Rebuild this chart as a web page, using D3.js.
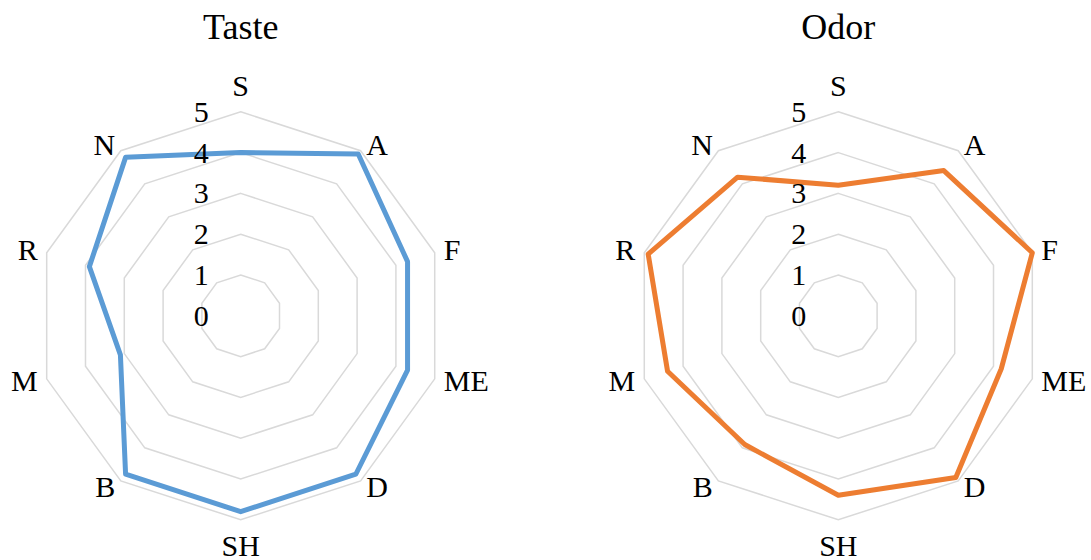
<!DOCTYPE html>
<html>
<head>
<meta charset="utf-8">
<script src="https://cdn.jsdelivr.net/npm/d3@7"></script>
<style>
  body { margin: 0; background: #fff; }
  svg { display: block; }
  text { font-family: "Liberation Serif", "Times New Roman", serif; fill: #000; }
</style>
</head>
<body>
<div id="chart"></div>
<script>
// categorias de los ejes (en sentido horario desde arriba)
const categorias = ["S", "A", "F", "ME", "D", "SH", "B", "M", "R", "N"]
const valoresTaste = [4.0, 4.9, 4.3, 4.3, 4.8, 4.8, 4.8, 3.1, 3.9, 4.8]
const valoresOdor = [3.2, 4.4, 5.0, 4.2, 4.9, 4.4, 3.9, 4.4, 4.9, 4.2]
const ticks = [0, 1, 2, 3, 4, 5]
const titulos = ["Taste", "Odor"]
const colores = ["#5B9BD5", "#ED7D31"]

const ancho = 1091
const alto = 560
const radio = 204
const centros = [{ x: 240.7, y: 315.8 }, { x: 838.3, y: 315.8 }]

const svg = d3.select("#chart")
  .append("svg")
  .attr("width", ancho)
  .attr("height", alto)

const r = d3.scaleLinear().domain([0, 5]).range([0, radio])
const ang = d3.scaleLinear().domain([0, categorias.length]).range([0, 2 * Math.PI])

const radar = d3.lineRadial()
  .angle((d, i) => ang(i))
  .radius(d => r(d))
  .curve(d3.curveLinearClosed)

const dibujarRadar = (valores, titulo, color, c) => {
  const g = svg.append("g").attr("transform", `translate(${c.x}, ${c.y})`)

  // anillos de la cuadricula
  g.selectAll("path.anillo")
    .data(ticks.filter(t => t > 0))
    .enter()
    .append("path")
    .attr("class", "anillo")
    .attr("d", t => radar(categorias.map(() => t)))
    .attr("fill", "none")
    .attr("stroke", "#D9D9D9")
    .attr("stroke-width", 1.5)

  // serie
  g.append("path")
    .attr("d", radar(valores))
    .attr("fill", "none")
    .attr("stroke", color)
    .attr("stroke-width", 5)
    .attr("stroke-linejoin", "round")

  // etiquetas del eje de valores
  g.selectAll("text.tick")
    .data(ticks)
    .enter()
    .append("text")
    .attr("class", "tick")
    .attr("x", -32)
    .attr("y", t => -r(t) + 10)
    .attr("text-anchor", "end")
    .style("font-size", "30px")
    .text(t => t)

  // etiquetas de categorias
  g.selectAll("text.cat")
    .data(categorias)
    .enter()
    .append("text")
    .attr("class", "cat")
    .each(function (d, i) {
      const a = ang(i)
      const s = Math.sin(a), co = Math.cos(a)
      const x0 = r(5) * s, y0 = -r(5) * co
      const t = d3.select(this)
      if (Math.abs(s) < 0.01) {
        t.attr("x", x0).attr("y", y0 - co * 26 + 10).attr("text-anchor", "middle")
      } else {
        t.attr("x", x0 + s * 9.5)
          .attr("y", y0 - co * 7.5 + 10)
          .attr("text-anchor", s > 0 ? "start" : "end")
      }
    })
    .style("font-size", "30px")
    .text(d => d)

  svg.append("text")
    .attr("x", c.x)
    .attr("y", 39)
    .attr("text-anchor", "middle")
    .style("font-size", "36px")
    .text(titulo)
}

dibujarRadar(valoresTaste, titulos[0], colores[0], centros[0])
dibujarRadar(valoresOdor, titulos[1], colores[1], centros[1])
</script>
</body>
</html>
